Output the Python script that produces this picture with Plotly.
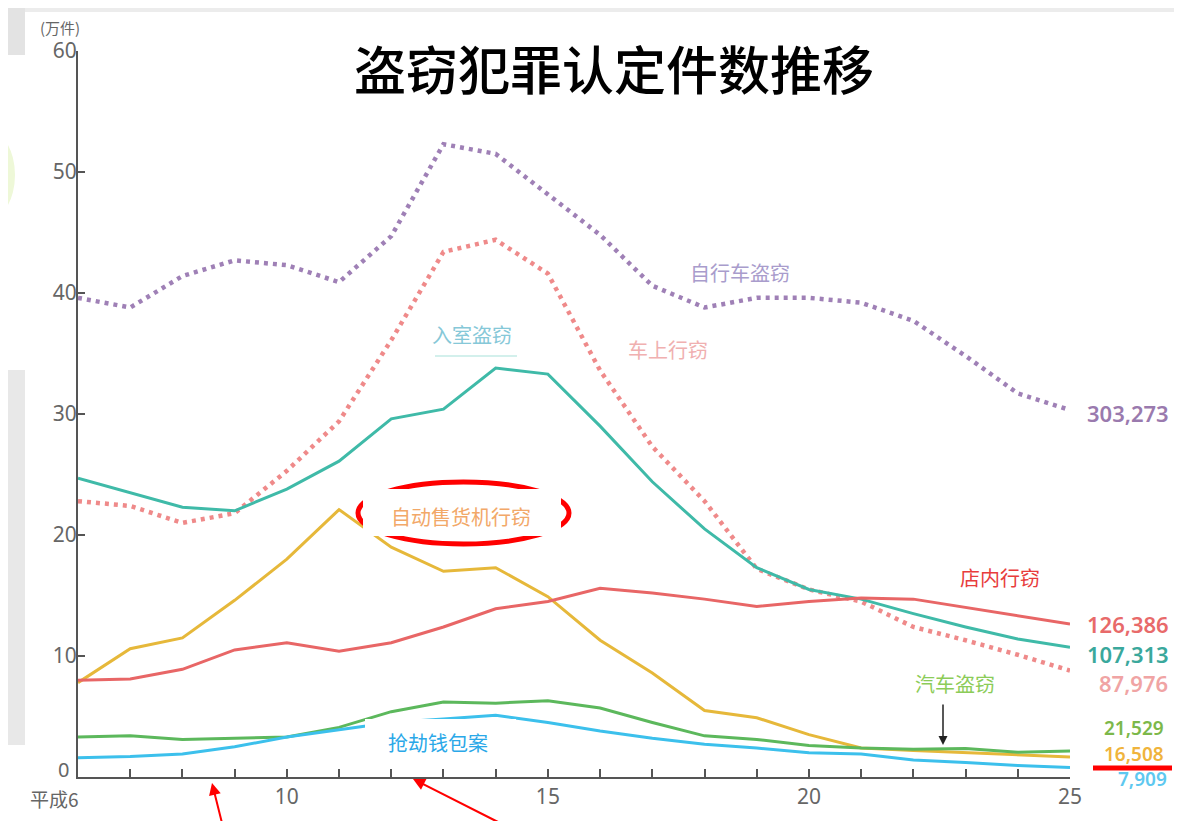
import plotly.graph_objects as go

years = list(range(6, 26))
bicycle = [39.6, 38.8, 41.4, 42.7, 42.3, 40.9, 44.7, 52.3, 51.5, 48.1, 44.8, 40.6, 38.8, 39.6, 39.6, 39.2, 37.7, 34.8, 31.7, 30.33]
car_break = [22.8, 22.4, 21.0, 21.8, 25.3, 29.4, 36.1, 43.4, 44.4, 41.6, 33.6, 27.3, 22.8, 17.2, 15.5, 14.5, 12.4, 11.3, 10.1, 8.80]
burglary = [24.7, 23.5, 22.3, 22.0, 23.8, 26.1, 29.6, 30.4, 33.8, 33.3, 29.0, 24.4, 20.5, 17.3, 15.5, 14.7, 13.5, 12.4, 11.4, 10.73]
vending = [7.8, 10.6, 11.5, 14.6, 18.0, 22.1, 19.0, 17.0, 17.3, 14.9, 11.3, 8.6, 5.5, 4.9, 3.5, 2.4, 2.2, 2.0, 1.8, 1.65]
shoplift = [8.0, 8.1, 8.9, 10.5, 11.1, 10.4, 11.1, 12.4, 13.9, 14.5, 15.6, 15.2, 14.7, 14.1, 14.5, 14.8, 14.7, 14.0, 13.3, 12.64]
auto_theft = [3.3, 3.4, 3.1, 3.2, 3.3, 4.1, 5.4, 6.2, 6.1, 6.3, 5.7, 4.5, 3.4, 3.1, 2.6, 2.4, 2.3, 2.35, 2.05, 2.15]
snatch = [1.6, 1.7, 1.9, 2.5, 3.3, 3.9, 4.5, 4.8, 5.1, 4.5, 3.8, 3.2, 2.7, 2.4, 2.0, 1.9, 1.4, 1.2, 0.95, 0.79]

x_tickvals = [6, 10, 15, 20, 25]
x_ticktext = ["", "10", "15", "20", "25"]
x_first_label = "平成6"
y_tickvals = [0, 10, 20, 30, 40, 50, 60]
y_ticktext = ["", "10", "20", "30", "40", "50", "60"]
y_zero_label = "0"

end_labels = ["303,273", "126,386", "107,313", "87,976", "21,529", "16,508", "7,909"]

series = [
    ("自行车盗窃", bicycle, "#9f80b6", "4px,5px", 4.5),
    ("车上行窃", car_break, "#ef8a8a", "4px,5px", 4.5),
    ("入室盗窃", burglary, "#3fbaa8", "solid", 3),
    ("自动售货机行窃", vending, "#e6b83a", "solid", 3),
    ("店内行窃", shoplift, "#e86666", "solid", 3),
    ("汽车盗窃", auto_theft, "#5cb85c", "solid", 3),
    ("抢劫钱包案", snatch, "#3cc0ec", "solid", 3),
]

# page is offset by 8px (body margin); positions below are given in reference pixels
OFF = 8
L, R, T, B = 78 - OFF, 1070 - OFF, 51 - OFF, 777 - OFF
def px(x):
    return (x - OFF - L) / (R - L)
def py(y):
    return (B - (y - OFF)) / (B - T)

fig = go.Figure()
for name, vals, color, dash, w in series:
    fig.add_trace(go.Scatter(x=years, y=vals, mode="lines", name=name,
                             line=dict(color=color, width=w, dash=dash),
                             cliponaxis=False))

cjk = "Noto Sans CJK SC"
num_font = "Noto Sans"

def text(t, x, y, size, color, family=cjk, weight=None):
    f = dict(family=family, size=size, color=color)
    if weight:
        f["weight"] = weight
    return dict(text=t, xref="paper", yref="paper", x=px(x), y=py(y), showarrow=False,
                xanchor="center", yanchor="middle", font=f)

annotations = []
annotations.append(text("盗窃犯罪认定件数推移", 614, 68, 52, "#000000", weight=500))
annotations.append(text("(万件)", 60, 27, 15, "#666666"))
annotations.append(text(x_first_label, 54, 798, 19, "#666666"))
annotations.append(text(y_zero_label, 63, 769, 20, "#666666", family=num_font))

# series labels
lab = [
    ("自行车盗窃", 740, 272, "#a99ccc"),
    ("车上行窃", 668, 349, "#f0b0b0"),
    ("入室盗窃", 472, 334, "#86c8d8"),
    ("自动售货机行窃", 461, 517, "#f2a868"),
    ("店内行窃", 1000, 577, "#e83c3c"),
    ("汽车盗窃", 955, 683, "#8ccc58"),
    ("抢劫钱包案", 438, 742, "#2aa8e8"),
]
for t, x, y, c in lab:
    annotations.append(text(t, x, y, 20, c))

# end value labels: (x, y, colour, size)
end_pos = [(1128, 413, "#9a7aae", 22), (1128, 624, "#e86a6a", 22), (1128, 654, "#3aa89c", 22),
           (1133, 683, "#f0a4a4", 22), (1134, 728, "#7cb84a", 19), (1134, 754, "#f0b43c", 19),
           (1142, 779, "#5ec8f0", 19)]
for t, (x, y, c, s) in zip(end_labels, end_pos):
    annotations.append(text(t, x, y, s, c, family=num_font, weight=600))

# arrows (head position, tail position in reference pixels)
arrows = [((212, 783), (222, 823), "#ff0000", 2), ((413, 779), (500, 823), "#ff0000", 2),
          ((943, 745), (943, 703), "#222222", 1.5)]
for (hx, hy), (tx, ty), c, w in arrows:
    annotations.append(dict(text="", xref="paper", yref="paper", x=px(hx), y=py(hy),
                            axref="pixel", ayref="pixel", ax=tx - hx, ay=ty - hy,
                            showarrow=True, arrowhead=2, arrowsize=1.2, arrowwidth=w, arrowcolor=c))

def rect(x0, y0, x1, y1, color, layer="above"):
    return dict(type="rect", xref="paper", yref="paper", x0=px(x0), x1=px(x1), y0=py(y0), y1=py(y1),
                fillcolor=color, line=dict(width=0), layer=layer)

shapes = [
    # screenshot background strips
    rect(8, 8, 1190, 12, "#ececec", "below"),
    rect(8, 8, 25, 55, "#e3e3e3", "below"),
    dict(type="circle", xref="paper", yref="paper", x0=px(-40), x1=px(15), y0=py(130), y1=py(220),
         fillcolor="#eef8d8", line=dict(width=0), layer="below"),
    rect(8, 370, 25, 745, "#e8e8e8", "below"),
    # red ellipse highlight
    dict(type="circle", xref="paper", yref="paper", x0=px(358), x1=px(569), y0=py(482), y1=py(544),
         line=dict(color="#ff0000", width=5), layer="above"),
    # white label boxes
    rect(363, 489, 561, 536, "white"),
    rect(410, 311, 517, 355, "white"),
    rect(603, 325, 748, 370, "white"),
    rect(940, 563, 1043, 596, "white"),
    rect(893, 667, 1000, 701, "white"),
    rect(365, 719, 516, 768, "white"),
    # red underline mark
    dict(type="line", xref="paper", yref="paper", x0=px(1093), x1=px(1172), y0=py(768), y1=py(768),
         line=dict(color="#ff0000", width=5)),
    # short teal fragment under label
    dict(type="line", xref="paper", yref="paper", x0=px(435), x1=px(517), y0=py(356), y1=py(356),
         line=dict(color="#c4ebe6", width=1.5)),
]

fig.update_layout(
    width=1182, height=821,
    margin=dict(l=L, r=1182 - R, t=T, b=821 - B),
    paper_bgcolor="white", plot_bgcolor="white",
    showlegend=False,
    annotations=annotations,
    shapes=shapes,
    xaxis=dict(range=[6, 25], tickvals=x_tickvals, ticktext=x_ticktext,
               showgrid=False, zeroline=False, showline=True, linecolor="#555555", linewidth=2,
               ticks="inside", ticklen=8, tickwidth=1.5, tickcolor="#555555",
               minor=dict(dtick=1, tick0=6, ticks="inside", ticklen=8, tickwidth=1.5, tickcolor="#555555"),
               tickfont=dict(family=num_font, size=21, color="#666666")),
    yaxis=dict(range=[0, 60], tickvals=y_tickvals, ticktext=y_ticktext, showgrid=False, zeroline=False,
               showline=True, linecolor="#555555", linewidth=2,
               ticks="inside", ticklen=7, tickwidth=1.5, tickcolor="#555555",
               ticklabelstandoff=-5,
               tickfont=dict(family=num_font, size=21, color="#666666")),
)

fig.write_html("out.html")
